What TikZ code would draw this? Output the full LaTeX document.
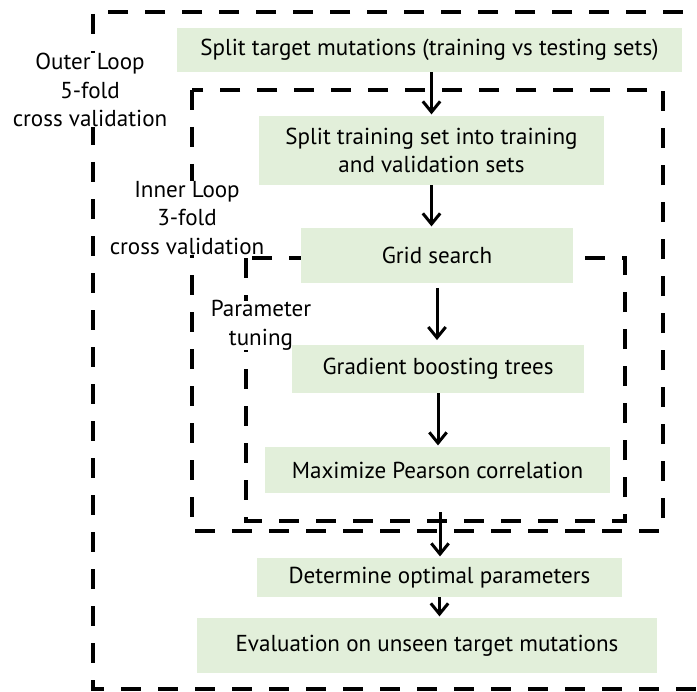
\documentclass[tikz,border=0pt]{standalone}
\usepackage{fontspec}
\setmainfont{PT Sans}
\usetikzlibrary{arrows.meta}
\definecolor{stepgreen}{HTML}{E2EFDA}

\begin{document}
\begin{tikzpicture}[x=0.75pt,y=-0.75pt,
	stepbox/.style={fill=stepgreen, inner sep=0pt, align=center, font=\fontsize{17.3}{21.4}\selectfont},
	looplabel/.style={fill=white, inner sep=0pt, align=center, font=\fontsize{17.3}{21.4}\selectfont},
	loopline/.style={line width=3.5pt, dash pattern=on 15pt off 12.75pt},
	arr/.style={line width=2.25pt, shorten >=1pt, -{Straight Barb[length=8pt,width=13pt]}}]
	\useasboundingbox (0,0) rectangle (697,692);
	\clip (0,0) rectangle (697,692);
	
	%Outer Loop
	\draw[loopline] (720,12) -- (93,12) -- (93,689) -- (720,689);
	%Inner Loop
	\draw[loopline] (192,90) rectangle (663,531);
	%Parameter tuning
	\draw[loopline] (246,258) rectangle (625,521);
	
	%Loop labels
	\node[looplabel] (outerlbl) at (90,90) {Outer Loop\\5-fold\\cross validation};
	\node[looplabel] (innerlbl) at (187,218) {Inner Loop\\3-fold\\cross validation};
	\node[looplabel] (tunelbl) at (261,325.5) {Parameter\\tuning};
	
	%Steps
	\node[stepbox, minimum width=378.75pt, minimum height=33pt] (split) at (429.5,50) {Split target mutations (training vs testing sets)};
	\node[stepbox, minimum width=258.75pt, minimum height=51.75pt] (inner) at (431.5,150.5) {Split training set into training\\and validation sets};
	\node[stepbox, minimum width=204pt, minimum height=41.25pt] (grid) at (437,255.5) {Grid search};
	\node[stepbox, minimum width=219pt, minimum height=36pt] (gbt) at (438,369) {Gradient boosting trees};
	\node[stepbox, minimum width=258.75pt, minimum height=34.5pt] (pearson) at (437.5,470) {Maximize Pearson correlation};
	\node[stepbox, minimum width=273.75pt, minimum height=29.25pt] (optimal) at (439.5,577.5) {Determine optimal parameters};
	\node[stepbox, minimum width=345pt, minimum height=41.25pt] (eval) at (427,645.5) {Evaluation on unseen target mutations};
	
	%Arrows
	\coordinate (tuneout) at (440,512);
	\draw[arr] (split.south -| inner.north) -- (inner.north);
	\draw[arr] (inner.south) -- (inner.south |- grid.north);
	\draw[arr, shorten <=3.5pt, shorten >=3.5pt] (grid.south) -- (grid.south |- gbt.north);
	\draw[arr] (gbt.south) -- (gbt.south |- pearson.north);
	\draw[arr] (tuneout) -- (tuneout |- optimal.north);
	\draw[arr] (optimal.south) -- (optimal.south |- eval.north);
\end{tikzpicture}
\end{document}
